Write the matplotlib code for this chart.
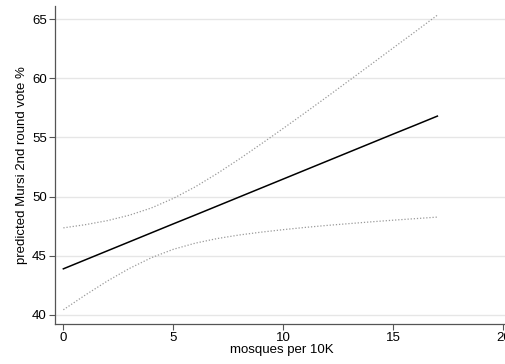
import matplotlib
matplotlib.use("Agg")
import matplotlib.pyplot as plt

plt.rcParams['font.family'] = ['Liberation Sans', 'DejaVu Sans']

# mosques per 10K
mosques = [0, 1, 2, 3, 4, 5, 6, 7, 8, 9, 10, 11, 12, 13, 14, 15, 16, 17]
# predicted vote share and 95% bounds
predicted = [43.90, 44.66, 45.42, 46.18, 46.94, 47.70, 48.45, 49.21, 49.97,
             50.73, 51.49, 52.25, 53.01, 53.77, 54.53, 55.29, 56.04, 56.80]
upper = [47.36, 47.63, 47.97, 48.43, 49.04, 49.85, 50.83, 51.96, 53.18,
         54.46, 55.77, 57.10, 58.45, 59.82, 61.19, 62.57, 63.94, 65.33]
lower = [40.44, 41.69, 42.87, 43.93, 44.84, 45.55, 46.07, 46.46, 46.76,
         47.00, 47.21, 47.40, 47.57, 47.72, 47.87, 48.01, 48.14, 48.27]

xticks = [0, 5, 10, 15, 20]
yticks = [40, 45, 50, 55, 60, 65]

fig = plt.figure(figsize=(5.05, 3.64), dpi=100)
ax = fig.add_axes([0.1089, 0.1099, 0.8966, 0.8736])

ax.plot(mosques, upper, color='#9a9a9a', lw=0.9, ls=(0, (1, 1.5)))
ax.plot(mosques, lower, color='#9a9a9a', lw=0.9, ls=(0, (1, 1.5)))
ax.plot(mosques, predicted, color='black', lw=1.1)

ax.set_xlim(-0.38, 20.2)
ax.set_ylim(39.24, 66.1)
ax.set_xticks(xticks)
ax.set_yticks(yticks)
ax.grid(axis='y', color='#e6e6e6', lw=1)
ax.set_axisbelow(True)

for s in ['top', 'right']:
    ax.spines[s].set_visible(False)
for s in ['left', 'bottom']:
    ax.spines[s].set_color('#555555')
    ax.spines[s].set_linewidth(0.9)

ax.tick_params(direction='out', length=4, width=0.8, color='#555555',
               labelsize=9.5, pad=2)
ax.set_xlabel('mosques per 10K', fontsize=9.5, labelpad=0)
ax.set_ylabel('predicted Mursi 2nd round vote %', fontsize=9.5, labelpad=3)

fig.savefig('out.png', dpi=100)
